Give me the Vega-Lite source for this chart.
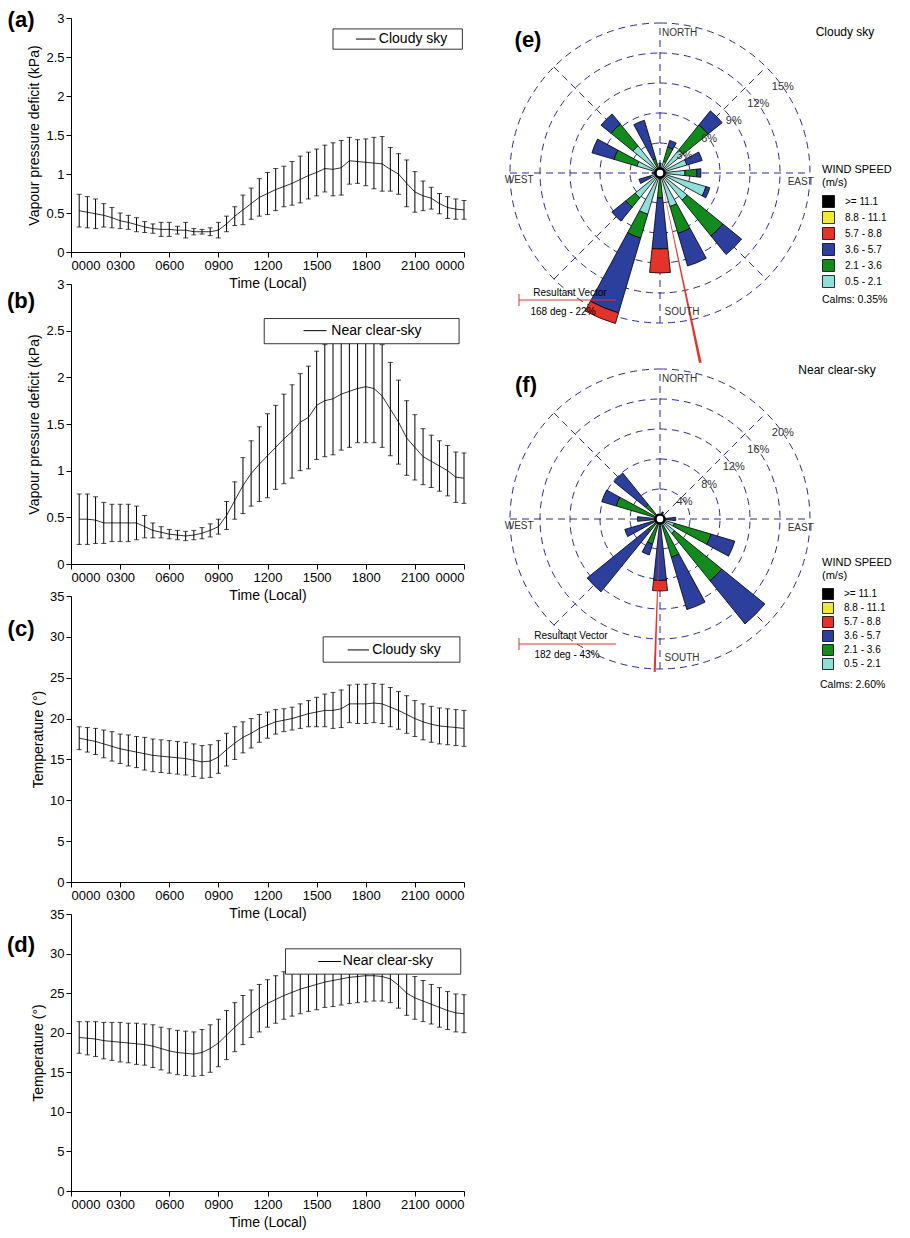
{
  "$schema": "https://vega.github.io/schema/vega-lite/v6.json",
  "padding": {"left": 7, "top": 8, "right": 5, "bottom": 5},
  "spacing": 37,
  "config": {
    "font": "Liberation Sans",
    "view": {"stroke": null},
    "axis": {"grid": false, "domainColor": "#000", "tickColor": "#000", "labelColor": "#000", "titleColor": "#000",
      "labelFontSize": 13, "titleFontSize": 14, "titleFontWeight": "normal"},
    "legend": {"titleFontSize": 11, "titleFontWeight": "normal", "labelFontSize": 10, "titleColor": "#000", "labelColor": "#000",
      "symbolType": "square", "symbolStrokeColor": "#000", "symbolStrokeWidth": 0.8, "symbolOpacity": 1, "titlePadding": 7, "labelOffset": 10}
  },
  "datasets": {
    "ts": [
      {"t":0.5,"a":0.53,"ae":0.21,"b":0.48,"be":0.27,"c":17.6,"ce":1.4,"d":19.4,"de":2.0},
      {"t":1.0,"a":0.51,"ae":0.2,"b":0.48,"be":0.27,"c":17.4,"ce":1.5,"d":19.3,"de":2.1},
      {"t":1.5,"a":0.49,"ae":0.19,"b":0.47,"be":0.25,"c":17.2,"ce":1.6,"d":19.2,"de":2.2},
      {"t":2.0,"a":0.47,"ae":0.15,"b":0.44,"be":0.22,"c":16.9,"ce":1.7,"d":19.0,"de":2.3},
      {"t":2.5,"a":0.44,"ae":0.13,"b":0.44,"be":0.2,"c":16.6,"ce":1.8,"d":18.9,"de":2.4},
      {"t":3.0,"a":0.40,"ae":0.1,"b":0.44,"be":0.2,"c":16.3,"ce":1.8,"d":18.8,"de":2.5},
      {"t":3.5,"a":0.38,"ae":0.09,"b":0.44,"be":0.2,"c":16.1,"ce":1.9,"d":18.7,"de":2.5},
      {"t":4.0,"a":0.35,"ae":0.09,"b":0.44,"be":0.18,"c":15.9,"ce":1.9,"d":18.6,"de":2.6},
      {"t":4.5,"a":0.32,"ae":0.07,"b":0.40,"be":0.12,"c":15.7,"ce":2.0,"d":18.5,"de":2.6},
      {"t":5.0,"a":0.30,"ae":0.06,"b":0.36,"be":0.08,"c":15.5,"ce":2.0,"d":18.3,"de":2.7},
      {"t":5.5,"a":0.29,"ae":0.09,"b":0.34,"be":0.06,"c":15.4,"ce":2.0,"d":18.0,"de":2.7},
      {"t":6.0,"a":0.29,"ae":0.09,"b":0.32,"be":0.05,"c":15.3,"ce":2.0,"d":17.7,"de":2.8},
      {"t":6.5,"a":0.28,"ae":0.05,"b":0.31,"be":0.05,"c":15.2,"ce":2.0,"d":17.5,"de":2.8},
      {"t":7.0,"a":0.28,"ae":0.1,"b":0.30,"be":0.05,"c":15.1,"ce":2.0,"d":17.4,"de":2.8},
      {"t":7.5,"a":0.26,"ae":0.04,"b":0.31,"be":0.05,"c":14.9,"ce":2.0,"d":17.3,"de":2.8},
      {"t":8.0,"a":0.26,"ae":0.03,"b":0.33,"be":0.06,"c":14.7,"ce":2.0,"d":17.5,"de":2.9},
      {"t":8.5,"a":0.26,"ae":0.05,"b":0.36,"be":0.07,"c":14.8,"ce":2.0,"d":18.0,"de":3.0},
      {"t":9.0,"a":0.28,"ae":0.1,"b":0.40,"be":0.08,"c":15.3,"ce":2.0,"d":18.7,"de":3.0},
      {"t":9.5,"a":0.36,"ae":0.1,"b":0.52,"be":0.15,"c":16.2,"ce":2.0,"d":19.7,"de":3.1},
      {"t":10.0,"a":0.46,"ae":0.12,"b":0.68,"be":0.2,"c":17.0,"ce":2.0,"d":20.7,"de":3.1},
      {"t":10.5,"a":0.54,"ae":0.19,"b":0.84,"be":0.3,"c":17.7,"ce":1.9,"d":21.6,"de":3.1},
      {"t":11.0,"a":0.62,"ae":0.2,"b":0.97,"be":0.35,"c":18.2,"ce":1.8,"d":22.4,"de":3.0},
      {"t":11.5,"a":0.70,"ae":0.24,"b":1.07,"be":0.4,"c":18.8,"ce":1.7,"d":23.1,"de":3.0},
      {"t":12.0,"a":0.75,"ae":0.27,"b":1.16,"be":0.45,"c":19.2,"ce":1.6,"d":23.7,"de":3.0},
      {"t":12.5,"a":0.80,"ae":0.27,"b":1.25,"be":0.45,"c":19.6,"ce":1.5,"d":24.2,"de":3.0},
      {"t":13.0,"a":0.84,"ae":0.26,"b":1.34,"be":0.48,"c":19.8,"ce":1.4,"d":24.7,"de":3.0},
      {"t":13.5,"a":0.88,"ae":0.28,"b":1.42,"be":0.5,"c":20.0,"ce":1.4,"d":25.1,"de":3.0},
      {"t":14.0,"a":0.93,"ae":0.3,"b":1.52,"be":0.52,"c":20.3,"ce":1.5,"d":25.5,"de":3.1},
      {"t":14.5,"a":0.98,"ae":0.3,"b":1.57,"be":0.55,"c":20.6,"ce":1.6,"d":25.8,"de":3.1},
      {"t":15.0,"a":1.02,"ae":0.3,"b":1.70,"be":0.58,"c":20.8,"ce":1.8,"d":26.1,"de":3.2},
      {"t":15.5,"a":1.07,"ae":0.3,"b":1.75,"be":0.6,"c":21.0,"ce":2.0,"d":26.4,"de":3.2},
      {"t":16.0,"a":1.06,"ae":0.34,"b":1.77,"be":0.6,"c":21.0,"ce":2.2,"d":26.6,"de":3.3},
      {"t":16.5,"a":1.08,"ae":0.35,"b":1.82,"be":0.6,"c":21.2,"ce":2.3,"d":26.8,"de":3.3},
      {"t":17.0,"a":1.17,"ae":0.3,"b":1.85,"be":0.6,"c":21.8,"ce":2.3,"d":27.0,"de":3.3},
      {"t":17.5,"a":1.16,"ae":0.28,"b":1.88,"be":0.58,"c":21.8,"ce":2.4,"d":27.1,"de":3.3},
      {"t":18.0,"a":1.15,"ae":0.3,"b":1.90,"be":0.6,"c":21.8,"ce":2.4,"d":27.2,"de":3.3},
      {"t":18.5,"a":1.14,"ae":0.33,"b":1.88,"be":0.58,"c":21.9,"ce":2.4,"d":27.2,"de":3.2},
      {"t":19.0,"a":1.13,"ae":0.35,"b":1.80,"be":0.55,"c":21.8,"ce":2.4,"d":27.1,"de":3.1},
      {"t":19.5,"a":1.06,"ae":0.28,"b":1.66,"be":0.5,"c":21.4,"ce":2.4,"d":26.8,"de":3.0},
      {"t":20.0,"a":1.00,"ae":0.26,"b":1.52,"be":0.45,"c":21.0,"ce":2.3,"d":26.0,"de":2.9},
      {"t":20.5,"a":0.88,"ae":0.3,"b":1.35,"be":0.4,"c":20.5,"ce":2.3,"d":25.0,"de":2.8},
      {"t":21.0,"a":0.77,"ae":0.26,"b":1.25,"be":0.35,"c":20.0,"ce":2.2,"d":24.4,"de":2.7},
      {"t":21.5,"a":0.72,"ae":0.19,"b":1.15,"be":0.3,"c":19.6,"ce":2.2,"d":24.0,"de":2.6},
      {"t":22.0,"a":0.69,"ae":0.14,"b":1.10,"be":0.28,"c":19.3,"ce":2.2,"d":23.6,"de":2.5},
      {"t":22.5,"a":0.62,"ae":0.13,"b":1.05,"be":0.27,"c":19.1,"ce":2.2,"d":23.2,"de":2.5},
      {"t":23.0,"a":0.57,"ae":0.14,"b":1.00,"be":0.27,"c":19.0,"ce":2.2,"d":22.8,"de":2.4},
      {"t":23.5,"a":0.55,"ae":0.13,"b":0.93,"be":0.27,"c":18.9,"ce":2.2,"d":22.5,"de":2.4},
      {"t":24.0,"a":0.54,"ae":0.12,"b":0.92,"be":0.27,"c":18.8,"ce":2.2,"d":22.4,"de":2.4}
    ],
    "rose_e": [
      {"d":0,"c":"3.6 - 5.7","lo":0,"hi":1.0},
      {"d":22.5,"c":"0.5 - 2.1","lo":0,"hi":1.2},{"d":22.5,"c":"2.1 - 3.6","lo":1.2,"hi":2.7},{"d":22.5,"c":"3.6 - 5.7","lo":2.7,"hi":3.4},
      {"d":45,"c":"0.5 - 2.1","lo":0,"hi":3},{"d":45,"c":"2.1 - 3.6","lo":3,"hi":6.2},{"d":45,"c":"3.6 - 5.7","lo":6.2,"hi":8.0},
      {"d":67.5,"c":"0.5 - 2.1","lo":0,"hi":2.8},{"d":67.5,"c":"3.6 - 5.7","lo":2.8,"hi":4.4},
      {"d":90,"c":"0.5 - 2.1","lo":0,"hi":2.5},{"d":90,"c":"2.1 - 3.6","lo":2.5,"hi":3.7},{"d":90,"c":"3.6 - 5.7","lo":3.7,"hi":4.1},
      {"d":112.5,"c":"0.5 - 2.1","lo":0,"hi":4.8},{"d":112.5,"c":"3.6 - 5.7","lo":4.8,"hi":5.2},
      {"d":135,"c":"0.5 - 2.1","lo":0,"hi":3.5},{"d":135,"c":"2.1 - 3.6","lo":3.5,"hi":8.1},{"d":135,"c":"3.6 - 5.7","lo":8.1,"hi":10.5},
      {"d":157.5,"c":"0.5 - 2.1","lo":0,"hi":3.5},{"d":157.5,"c":"2.1 - 3.6","lo":3.5,"hi":6.3},{"d":157.5,"c":"3.6 - 5.7","lo":6.3,"hi":9.7},
      {"d":180,"c":"2.1 - 3.6","lo":0,"hi":2.5},{"d":180,"c":"3.6 - 5.7","lo":2.5,"hi":7.6},{"d":180,"c":"5.7 - 8.8","lo":7.6,"hi":10},
      {"d":202.5,"c":"0.5 - 2.1","lo":0,"hi":4.3},{"d":202.5,"c":"2.1 - 3.6","lo":4.3,"hi":6.8},{"d":202.5,"c":"3.6 - 5.7","lo":6.8,"hi":14.6},{"d":202.5,"c":"5.7 - 8.8","lo":14.6,"hi":15.7},
      {"d":225,"c":"0.5 - 2.1","lo":0,"hi":3.2},{"d":225,"c":"2.1 - 3.6","lo":3.2,"hi":4.4},{"d":225,"c":"3.6 - 5.7","lo":4.4,"hi":6.2},
      {"d":247.5,"c":"0.5 - 2.1","lo":0,"hi":1},{"d":247.5,"c":"3.6 - 5.7","lo":1,"hi":2.2},
      {"d":270,"c":"3.6 - 5.7","lo":0,"hi":0.8},
      {"d":292.5,"c":"0.5 - 2.1","lo":0,"hi":2.4},{"d":292.5,"c":"2.1 - 3.6","lo":2.4,"hi":4.8},{"d":292.5,"c":"3.6 - 5.7","lo":4.8,"hi":7.1},
      {"d":315,"c":"0.5 - 2.1","lo":0,"hi":3.5},{"d":315,"c":"2.1 - 3.6","lo":3.5,"hi":6.3},{"d":315,"c":"3.6 - 5.7","lo":6.3,"hi":7.6},
      {"d":337.5,"c":"2.1 - 3.6","lo":0,"hi":1.5},{"d":337.5,"c":"3.6 - 5.7","lo":1.5,"hi":5.5}
    ],
    "rose_f": [
      {"d":22.5,"c":"3.6 - 5.7","lo":0,"hi":1},
      {"d":90,"c":"3.6 - 5.7","lo":0,"hi":2.1},
      {"d":112.5,"c":"0.5 - 2.1","lo":0,"hi":2},{"d":112.5,"c":"2.1 - 3.6","lo":2,"hi":7.1},{"d":112.5,"c":"3.6 - 5.7","lo":7.1,"hi":10.4},
      {"d":135,"c":"0.5 - 2.1","lo":0,"hi":2.5},{"d":135,"c":"2.1 - 3.6","lo":2.5,"hi":10.6},{"d":135,"c":"3.6 - 5.7","lo":10.6,"hi":18},
      {"d":157.5,"c":"0.5 - 2.1","lo":0,"hi":1},{"d":157.5,"c":"2.1 - 3.6","lo":1,"hi":5.3},{"d":157.5,"c":"3.6 - 5.7","lo":5.3,"hi":12.6},
      {"d":180,"c":"2.1 - 3.6","lo":0,"hi":1},{"d":180,"c":"3.6 - 5.7","lo":1,"hi":8.2},{"d":180,"c":"5.7 - 8.8","lo":8.2,"hi":9.6},
      {"d":202.5,"c":"2.1 - 3.6","lo":0,"hi":3.5},{"d":202.5,"c":"3.6 - 5.7","lo":3.5,"hi":5},
      {"d":225,"c":"2.1 - 3.6","lo":0,"hi":2},{"d":225,"c":"3.6 - 5.7","lo":2,"hi":12.5},
      {"d":247.5,"c":"3.6 - 5.7","lo":0,"hi":4.9},
      {"d":270,"c":"3.6 - 5.7","lo":0,"hi":3},
      {"d":292.5,"c":"2.1 - 3.6","lo":0,"hi":6.1},{"d":292.5,"c":"3.6 - 5.7","lo":6.1,"hi":8.1},
      {"d":315,"c":"2.1 - 3.6","lo":0,"hi":2.5},{"d":315,"c":"3.6 - 5.7","lo":2.5,"hi":7.9}
    ]
  },
  "resolve": {"scale": {"color": "independent"}, "legend": {"color": "independent"}},
  "hconcat": [
    {
      "bounds": "flush",
      "spacing": 32,
      "vconcat": [
        {
          "width": 393, "height": 234,
          "layer": [
            {"data": {"name": "ts"}, "mark": {"type": "errorbar", "ticks": {"size": 5}, "color": "#000", "strokeWidth": 0.8},
             "encoding": {
               "x": {"field": "t", "type": "quantitative", "title": "Time (Local)", "scale": {"domain": [0, 24], "nice": false},
                 "axis": {"values": [0,3,6,9,12,15,18,21,24], "labelExpr": "datum.value==0||datum.value==24?'0000':(datum.value<10?'0'+datum.value*100:''+datum.value*100)"}},
               "y": {"field": "a", "type": "quantitative", "title": "Vapour pressure deficit (kPa)", "scale": {"domain": [0, 3]}, "axis": {"values": [0,0.5,1,1.5,2,2.5,3], "format": "~g"}},
               "yError": {"field": "ae"}}},
            {"data": {"name": "ts"}, "mark": {"type": "line", "color": "#000", "strokeWidth": 0.8},
             "encoding": {"x": {"field": "t", "type": "quantitative"}, "y": {"field": "a", "type": "quantitative", "axis": {"values": [0,0.5,1,1.5,2,2.5,3], "format": "~g"}}}},
            {"data": {"values": [{"s": "Cloudy sky"}]}, "mark": {"type": "rect", "fill": "white", "stroke": "#000", "strokeWidth": 0.8},
             "encoding": {"x": {"datum": 16}, "x2": {"datum": 23.9}, "y": {"datum": 2.86, "axis": {"values": [0,0.5,1,1.5,2,2.5,3], "format": "~g"}}, "y2": {"datum": 2.6}}},
            {"data": {"values": [{"s": "Cloudy sky"}]}, "mark": {"type": "rule", "color": "#000"},
             "encoding": {"x": {"datum": 17.4}, "x2": {"datum": 18.6}, "y": {"datum": 2.73, "axis": {"values": [0,0.5,1,1.5,2,2.5,3], "format": "~g"}}}},
            {"data": {"values": [{"s": "Cloudy sky"}]}, "mark": {"type": "text", "align": "left", "fontSize": 14},
             "encoding": {"x": {"datum": 18.8}, "y": {"datum": 2.73, "axis": {"values": [0,0.5,1,1.5,2,2.5,3], "format": "~g"}}, "text": {"field": "s"}}},
            {"data": {"values": [{"s": "(a)"}]}, "mark": {"type": "text", "fontSize": 22, "fontWeight": "bold"},
             "encoding": {"x": {"datum": -3.05}, "y": {"datum": 2.98, "axis": {"values": [0,0.5,1,1.5,2,2.5,3], "format": "~g"}}, "text": {"field": "s"}}}
          ]
        },
        {
          "width": 393, "height": 280,
          "layer": [
            {"data": {"name": "ts"}, "mark": {"type": "errorbar", "ticks": {"size": 5}, "color": "#000", "strokeWidth": 0.8},
             "encoding": {
               "x": {"field": "t", "type": "quantitative", "title": "Time (Local)", "scale": {"domain": [0, 24], "nice": false},
                 "axis": {"values": [0,3,6,9,12,15,18,21,24], "labelExpr": "datum.value==0||datum.value==24?'0000':(datum.value<10?'0'+datum.value*100:''+datum.value*100)"}},
               "y": {"field": "b", "type": "quantitative", "title": "Vapour pressure deficit (kPa)", "scale": {"domain": [0, 3]}, "axis": {"values": [0,0.5,1,1.5,2,2.5,3], "format": "~g"}},
               "yError": {"field": "be"}}},
            {"data": {"name": "ts"}, "mark": {"type": "line", "color": "#000", "strokeWidth": 0.8},
             "encoding": {"x": {"field": "t", "type": "quantitative"}, "y": {"field": "b", "type": "quantitative", "axis": {"values": [0,0.5,1,1.5,2,2.5,3], "format": "~g"}}}},
            {"data": {"values": [{"s": "Near clear-sky"}]}, "mark": {"type": "rect", "fill": "white", "stroke": "#000", "strokeWidth": 0.8},
             "encoding": {"x": {"datum": 11.8}, "x2": {"datum": 23.7}, "y": {"datum": 2.63, "axis": {"values": [0,0.5,1,1.5,2,2.5,3], "format": "~g"}}, "y2": {"datum": 2.36}}},
            {"data": {"values": [{"s": "Near clear-sky"}]}, "mark": {"type": "rule", "color": "#000"},
             "encoding": {"x": {"datum": 14.2}, "x2": {"datum": 15.6}, "y": {"datum": 2.5, "axis": {"values": [0,0.5,1,1.5,2,2.5,3], "format": "~g"}}}},
            {"data": {"values": [{"s": "Near clear-sky"}]}, "mark": {"type": "text", "align": "left", "fontSize": 14},
             "encoding": {"x": {"datum": 15.9}, "y": {"datum": 2.5, "axis": {"values": [0,0.5,1,1.5,2,2.5,3], "format": "~g"}}, "text": {"field": "s"}}},
            {"data": {"values": [{"s": "(b)"}]}, "mark": {"type": "text", "fontSize": 22, "fontWeight": "bold"},
             "encoding": {"x": {"datum": -3.05}, "y": {"datum": 2.82, "axis": {"values": [0,0.5,1,1.5,2,2.5,3], "format": "~g"}}, "text": {"field": "s"}}}
          ]
        },
        {
          "width": 393, "height": 286,
          "layer": [
            {"data": {"name": "ts"}, "mark": {"type": "errorbar", "ticks": {"size": 5}, "color": "#000", "strokeWidth": 0.8},
             "encoding": {
               "x": {"field": "t", "type": "quantitative", "title": "Time (Local)", "scale": {"domain": [0, 24], "nice": false},
                 "axis": {"values": [0,3,6,9,12,15,18,21,24], "labelExpr": "datum.value==0||datum.value==24?'0000':(datum.value<10?'0'+datum.value*100:''+datum.value*100)"}},
               "y": {"field": "c", "type": "quantitative", "title": "Temperature (°)", "scale": {"domain": [0, 35]}, "axis": {"values": [0,5,10,15,20,25,30,35]}},
               "yError": {"field": "ce"}}},
            {"data": {"name": "ts"}, "mark": {"type": "line", "color": "#000", "strokeWidth": 0.8},
             "encoding": {"x": {"field": "t", "type": "quantitative"}, "y": {"field": "c", "type": "quantitative", "axis": {"values": [0,5,10,15,20,25,30,35]}}}},
            {"data": {"values": [{"s": "Cloudy sky"}]}, "mark": {"type": "rect", "fill": "white", "stroke": "#000", "strokeWidth": 0.8},
             "encoding": {"x": {"datum": 15.4}, "x2": {"datum": 23.75}, "y": {"datum": 30.0, "axis": {"values": [0,5,10,15,20,25,30,35]}}, "y2": {"datum": 26.9}}},
            {"data": {"values": [{"s": "Cloudy sky"}]}, "mark": {"type": "rule", "color": "#000"},
             "encoding": {"x": {"datum": 16.9}, "x2": {"datum": 18.2}, "y": {"datum": 28.4, "axis": {"values": [0,5,10,15,20,25,30,35]}}}},
            {"data": {"values": [{"s": "Cloudy sky"}]}, "mark": {"type": "text", "align": "left", "fontSize": 14},
             "encoding": {"x": {"datum": 18.4}, "y": {"datum": 28.4, "axis": {"values": [0,5,10,15,20,25,30,35]}}, "text": {"field": "s"}}},
            {"data": {"values": [{"s": "(c)"}]}, "mark": {"type": "text", "fontSize": 22, "fontWeight": "bold"},
             "encoding": {"x": {"datum": -3.05}, "y": {"datum": 31.0, "axis": {"values": [0,5,10,15,20,25,30,35]}}, "text": {"field": "s"}}}
          ]
        },
        {
          "width": 393, "height": 277,
          "layer": [
            {"data": {"name": "ts"}, "mark": {"type": "errorbar", "ticks": {"size": 5}, "color": "#000", "strokeWidth": 0.8},
             "encoding": {
               "x": {"field": "t", "type": "quantitative", "title": "Time (Local)", "scale": {"domain": [0, 24], "nice": false},
                 "axis": {"values": [0,3,6,9,12,15,18,21,24], "labelExpr": "datum.value==0||datum.value==24?'0000':(datum.value<10?'0'+datum.value*100:''+datum.value*100)"}},
               "y": {"field": "d", "type": "quantitative", "title": "Temperature (°)", "scale": {"domain": [0, 35]}, "axis": {"values": [0,5,10,15,20,25,30,35]}},
               "yError": {"field": "de"}}},
            {"data": {"name": "ts"}, "mark": {"type": "line", "color": "#000", "strokeWidth": 0.8},
             "encoding": {"x": {"field": "t", "type": "quantitative"}, "y": {"field": "d", "type": "quantitative", "axis": {"values": [0,5,10,15,20,25,30,35]}}}},
            {"data": {"values": [{"s": "Near clear-sky"}]}, "mark": {"type": "rect", "fill": "white", "stroke": "#000", "strokeWidth": 0.8},
             "encoding": {"x": {"datum": 13.1}, "x2": {"datum": 23.8}, "y": {"datum": 30.6, "axis": {"values": [0,5,10,15,20,25,30,35]}}, "y2": {"datum": 27.4}}},
            {"data": {"values": [{"s": "Near clear-sky"}]}, "mark": {"type": "rule", "color": "#000"},
             "encoding": {"x": {"datum": 15.1}, "x2": {"datum": 16.5}, "y": {"datum": 29.0, "axis": {"values": [0,5,10,15,20,25,30,35]}}}},
            {"data": {"values": [{"s": "Near clear-sky"}]}, "mark": {"type": "text", "align": "left", "fontSize": 14},
             "encoding": {"x": {"datum": 16.6}, "y": {"datum": 29.0, "axis": {"values": [0,5,10,15,20,25,30,35]}}, "text": {"field": "s"}}},
            {"data": {"values": [{"s": "(d)"}]}, "mark": {"type": "text", "fontSize": 22, "fontWeight": "bold"},
             "encoding": {"x": {"datum": -3.05}, "y": {"datum": 31.1, "axis": {"values": [0,5,10,15,20,25,30,35]}}, "text": {"field": "s"}}}
          ]
        }
      ]
    },
    {
      "resolve": {"scale": {"color": "independent", "radius": "independent"}, "legend": {"color": "independent"}},
      "spacing": 0,
      "vconcat": [
        {
          "width": 300, "height": 310,
          "layer": [
            {"data": {"values": [{"r": 3}, {"r": 6}, {"r": 9}, {"r": 12}, {"r": 15}]},
             "mark": {"type": "arc", "fill": null, "stroke": "#2b2b96", "strokeWidth": 1, "strokeDash": [7, 5]},
             "encoding": {"theta": {"datum": 0, "type": "quantitative", "scale": {"domain": [0, 360], "range": [0, 6.2832]}}, "theta2": {"datum": 360},
               "radius": {"field": "r", "type": "quantitative", "scale": {"domain": [0, 15], "range": [0, 150], "zero": true}}, "radius2": {"datum": 0}}},
            {"data": {"values": [{}]}, "mark": {"type": "rule", "stroke": "#2b2b96", "strokeDash": [7, 5]},
             "encoding": {"x": {"datum": 0, "type": "quantitative", "scale": {"domain": [-15, 15]}, "axis": null}, "y": {"datum": -15, "type": "quantitative", "scale": {"domain": [-15.5, 15.5]}, "axis": null}, "y2": {"datum": 15}}},
            {"data": {"values": [{}]}, "mark": {"type": "rule", "stroke": "#2b2b96", "strokeDash": [7, 5]},
             "encoding": {"x": {"datum": -15, "scale": {"domain": [-15, 15]}, "axis": null}, "x2": {"datum": 15}, "y": {"datum": 0, "scale": {"domain": [-15.5, 15.5]}, "axis": null}}},
            {"data": {"values": [{}]}, "mark": {"type": "rule", "stroke": "#2b2b96", "strokeDash": [7, 5]},
             "encoding": {"x": {"datum": -10.61, "scale": {"domain": [-15, 15]}, "axis": null}, "x2": {"datum": 10.61}, "y": {"datum": -10.61, "scale": {"domain": [-15.5, 15.5]}, "axis": null}, "y2": {"datum": 10.61}}},
            {"data": {"values": [{}]}, "mark": {"type": "rule", "stroke": "#2b2b96", "strokeDash": [7, 5]},
             "encoding": {"x": {"datum": -10.61, "scale": {"domain": [-15, 15]}, "axis": null}, "x2": {"datum": 10.61}, "y": {"datum": 10.61, "scale": {"domain": [-15.5, 15.5]}, "axis": null}, "y2": {"datum": -10.61}}},
            {"data": {"name": "rose_e"},
             "transform": [{"calculate": "datum.d - 6", "as": "t0"}, {"calculate": "datum.d + 6", "as": "t1"}],
             "mark": {"type": "arc", "stroke": "#000", "strokeWidth": 0.8},
             "encoding": {"theta": {"field": "t0", "type": "quantitative"}, "theta2": {"field": "t1"},
               "radius": {"field": "hi", "type": "quantitative"}, "radius2": {"field": "lo"},
               "color": {"field": "c", "type": "nominal",
                 "scale": {"domain": [">= 11.1", "8.8 - 11.1", "5.7 - 8.8", "3.6 - 5.7", "2.1 - 3.6", "0.5 - 2.1"], "range": ["#000000", "#f2e838", "#e3332a", "#2c3f9c", "#128a1e", "#8fe0d8"]},
                 "legend": {"orient": "none", "legendX": 312, "legendY": 146, "title": ["WIND SPEED", "(m/s)"], "symbolSize": 144, "rowPadding": -1}}}},
            {"data": {"values": [{}]}, "mark": {"type": "arc", "fill": "#e3332a"},
             "encoding": {"theta": {"datum": 167.6}, "theta2": {"datum": 168.4}, "radius": {"datum": 19.4}, "radius2": {"datum": 0}}},
            {"data": {"values": [{}]}, "mark": {"type": "arc", "fill": "white", "stroke": "#000", "strokeWidth": 2.5},
             "encoding": {"theta": {"datum": 0}, "theta2": {"datum": 360}, "radius": {"datum": 0.45}, "radius2": {"datum": 0}}},
            {"data": {"values": [{"r": 3}, {"r": 6}, {"r": 9}, {"r": 12}, {"r": 15}]},
             "transform": [{"calculate": "datum.r + '%'", "as": "s"}],
             "mark": {"type": "text", "fontSize": 11, "color": "#333"},
             "encoding": {"theta": {"datum": 55}, "radius": {"field": "r", "type": "quantitative"}, "text": {"field": "s"}}},
            {"data": {"values": [{"s": "NORTH", "a": 8}, {"s": "EAST", "a": 93.5}, {"s": "SOUTH", "a": 171}, {"s": "WEST", "a": 267}]},
             "mark": {"type": "text", "fontSize": 10, "color": "#333"},
             "encoding": {"theta": {"field": "a", "type": "quantitative"}, "radius": {"datum": 14.1}, "text": {"field": "s"}}},
            {"data": {"values": [{"s": "(e)"}]}, "mark": {"type": "text", "fontSize": 22, "fontWeight": "bold"},
             "encoding": {"x": {"datum": -13.2, "scale": {"domain": [-15, 15]}, "axis": null}, "y": {"datum": 13.3, "scale": {"domain": [-15.5, 15.5]}, "axis": null}, "text": {"field": "s"}}},
            {"data": {"values": [{"s": "Cloudy sky"}]}, "mark": {"type": "text", "fontSize": 12},
             "encoding": {"x": {"datum": 18.5, "scale": {"domain": [-15, 15]}, "axis": null}, "y": {"datum": 14.1, "scale": {"domain": [-15.5, 15.5]}, "axis": null}, "text": {"field": "s"}}},
            {"data": {"values": [{"s": "Resultant Vector"}]}, "mark": {"type": "text", "fontSize": 10},
             "encoding": {"x": {"datum": -9.0, "scale": {"domain": [-15, 15]}, "axis": null}, "y": {"datum": -12.0, "scale": {"domain": [-15.5, 15.5]}, "axis": null}, "text": {"field": "s"}}},
            {"data": {"values": [{"s": "168 deg - 22%"}]}, "mark": {"type": "text", "fontSize": 10},
             "encoding": {"x": {"datum": -9.7, "scale": {"domain": [-15, 15]}, "axis": null}, "y": {"datum": -13.9, "scale": {"domain": [-15.5, 15.5]}, "axis": null}, "text": {"field": "s"}}},
            {"data": {"values": [{}]}, "mark": {"type": "rule", "color": "#e3332a"},
             "encoding": {"x": {"datum": -14.1, "scale": {"domain": [-15, 15]}, "axis": null}, "x2": {"datum": -4.4}, "y": {"datum": -12.7, "scale": {"domain": [-15.5, 15.5]}, "axis": null}}},
            {"data": {"values": [{}]}, "mark": {"type": "rule", "color": "#e3332a"},
             "encoding": {"x": {"datum": -14.1, "scale": {"domain": [-15, 15]}, "axis": null}, "y": {"datum": -12.1, "scale": {"domain": [-15.5, 15.5]}, "axis": null}, "y2": {"datum": -13.3}}},
            {"data": {"values": [{"s": "Calms: 0.35%"}]}, "mark": {"type": "text", "fontSize": 10.5, "align": "left"},
             "encoding": {"x": {"datum": 16.2, "scale": {"domain": [-15, 15]}, "axis": null}, "y": {"datum": -12.7, "scale": {"domain": [-15.5, 15.5]}, "axis": null}, "text": {"field": "s"}}}
          ]
        },
        {
          "width": 300, "height": 300,
          "layer": [
            {"data": {"values": [{"r": 4}, {"r": 8}, {"r": 12}, {"r": 16}, {"r": 20}]},
             "mark": {"type": "arc", "fill": null, "stroke": "#2b2b96", "strokeWidth": 1, "strokeDash": [7, 5]},
             "encoding": {"theta": {"datum": 0, "type": "quantitative", "scale": {"domain": [0, 360], "range": [0, 6.2832]}}, "theta2": {"datum": 360},
               "radius": {"field": "r", "type": "quantitative", "scale": {"domain": [0, 20], "range": [0, 150], "zero": true}}, "radius2": {"datum": 0}}},
            {"data": {"values": [{}]}, "mark": {"type": "rule", "stroke": "#2b2b96", "strokeDash": [7, 5]},
             "encoding": {"x": {"datum": 0, "type": "quantitative", "scale": {"domain": [-15, 15]}, "axis": null}, "y": {"datum": -15, "type": "quantitative", "scale": {"domain": [-15, 15]}, "axis": null}, "y2": {"datum": 15}}},
            {"data": {"values": [{}]}, "mark": {"type": "rule", "stroke": "#2b2b96", "strokeDash": [7, 5]},
             "encoding": {"x": {"datum": -15, "scale": {"domain": [-15, 15]}, "axis": null}, "x2": {"datum": 15}, "y": {"datum": 0, "scale": {"domain": [-15, 15]}, "axis": null}}},
            {"data": {"values": [{}]}, "mark": {"type": "rule", "stroke": "#2b2b96", "strokeDash": [7, 5]},
             "encoding": {"x": {"datum": -10.61, "scale": {"domain": [-15, 15]}, "axis": null}, "x2": {"datum": 10.61}, "y": {"datum": -10.61, "scale": {"domain": [-15, 15]}, "axis": null}, "y2": {"datum": 10.61}}},
            {"data": {"values": [{}]}, "mark": {"type": "rule", "stroke": "#2b2b96", "strokeDash": [7, 5]},
             "encoding": {"x": {"datum": -10.61, "scale": {"domain": [-15, 15]}, "axis": null}, "x2": {"datum": 10.61}, "y": {"datum": 10.61, "scale": {"domain": [-15, 15]}, "axis": null}, "y2": {"datum": -10.61}}},
            {"data": {"name": "rose_f"},
             "transform": [{"calculate": "datum.d - 6", "as": "t0"}, {"calculate": "datum.d + 6", "as": "t1"}],
             "mark": {"type": "arc", "stroke": "#000", "strokeWidth": 0.8},
             "encoding": {"theta": {"field": "t0", "type": "quantitative"}, "theta2": {"field": "t1"},
               "radius": {"field": "hi", "type": "quantitative"}, "radius2": {"field": "lo"},
               "color": {"field": "c", "type": "nominal",
                 "scale": {"domain": [">= 11.1", "8.8 - 11.1", "5.7 - 8.8", "3.6 - 5.7", "2.1 - 3.6", "0.5 - 2.1"], "range": ["#000000", "#f2e838", "#e3332a", "#2c3f9c", "#128a1e", "#8fe0d8"]},
                 "legend": {"orient": "none", "legendX": 312, "legendY": 188, "title": ["WIND SPEED", "(m/s)"], "symbolSize": 121, "rowPadding": -2}}}},
            {"data": {"values": [{}]}, "mark": {"type": "arc", "fill": "#e3332a"},
             "encoding": {"theta": {"datum": 181.6}, "theta2": {"datum": 182.4}, "radius": {"datum": 20.4}, "radius2": {"datum": 0}}},
            {"data": {"values": [{}]}, "mark": {"type": "arc", "fill": "white", "stroke": "#000", "strokeWidth": 2.5},
             "encoding": {"theta": {"datum": 0}, "theta2": {"datum": 360}, "radius": {"datum": 0.6}, "radius2": {"datum": 0}}},
            {"data": {"values": [{"r": 4}, {"r": 8}, {"r": 12}, {"r": 16}, {"r": 20}]},
             "transform": [{"calculate": "datum.r + '%'", "as": "s"}],
             "mark": {"type": "text", "fontSize": 11, "color": "#333"},
             "encoding": {"theta": {"datum": 55}, "radius": {"field": "r", "type": "quantitative"}, "text": {"field": "s"}}},
            {"data": {"values": [{"s": "NORTH", "a": 8}, {"s": "EAST", "a": 93.5}, {"s": "SOUTH", "a": 171}, {"s": "WEST", "a": 267}]},
             "mark": {"type": "text", "fontSize": 10, "color": "#333"},
             "encoding": {"theta": {"field": "a", "type": "quantitative"}, "radius": {"datum": 18.8}, "text": {"field": "s"}}},
            {"data": {"values": [{"s": "(f)"}]}, "mark": {"type": "text", "fontSize": 22, "fontWeight": "bold"},
             "encoding": {"x": {"datum": -13.4, "scale": {"domain": [-15, 15]}, "axis": null}, "y": {"datum": 13.4, "scale": {"domain": [-15, 15]}, "axis": null}, "text": {"field": "s"}}},
            {"data": {"values": [{"s": "Near clear-sky"}]}, "mark": {"type": "text", "fontSize": 12},
             "encoding": {"x": {"datum": 17.7, "scale": {"domain": [-15, 15]}, "axis": null}, "y": {"datum": 14.9, "scale": {"domain": [-15, 15]}, "axis": null}, "text": {"field": "s"}}},
            {"data": {"values": [{"s": "Resultant Vector"}]}, "mark": {"type": "text", "fontSize": 10},
             "encoding": {"x": {"datum": -8.9, "scale": {"domain": [-15, 15]}, "axis": null}, "y": {"datum": -11.7, "scale": {"domain": [-15, 15]}, "axis": null}, "text": {"field": "s"}}},
            {"data": {"values": [{"s": "182 deg - 43%"}]}, "mark": {"type": "text", "fontSize": 10},
             "encoding": {"x": {"datum": -9.3, "scale": {"domain": [-15, 15]}, "axis": null}, "y": {"datum": -13.6, "scale": {"domain": [-15, 15]}, "axis": null}, "text": {"field": "s"}}},
            {"data": {"values": [{}]}, "mark": {"type": "rule", "color": "#e3332a"},
             "encoding": {"x": {"datum": -14.1, "scale": {"domain": [-15, 15]}, "axis": null}, "x2": {"datum": -4.4}, "y": {"datum": -12.5, "scale": {"domain": [-15, 15]}, "axis": null}}},
            {"data": {"values": [{}]}, "mark": {"type": "rule", "color": "#e3332a"},
             "encoding": {"x": {"datum": -14.1, "scale": {"domain": [-15, 15]}, "axis": null}, "y": {"datum": -11.9, "scale": {"domain": [-15, 15]}, "axis": null}, "y2": {"datum": -13.1}}},
            {"data": {"values": [{"s": "Calms: 2.60%"}]}, "mark": {"type": "text", "fontSize": 10.5, "align": "left"},
             "encoding": {"x": {"datum": 16.0, "scale": {"domain": [-15, 15]}, "axis": null}, "y": {"datum": -16.6, "scale": {"domain": [-15, 15]}, "axis": null}, "text": {"field": "s"}}}
          ]
        }
      ]
    }
  ]
}
